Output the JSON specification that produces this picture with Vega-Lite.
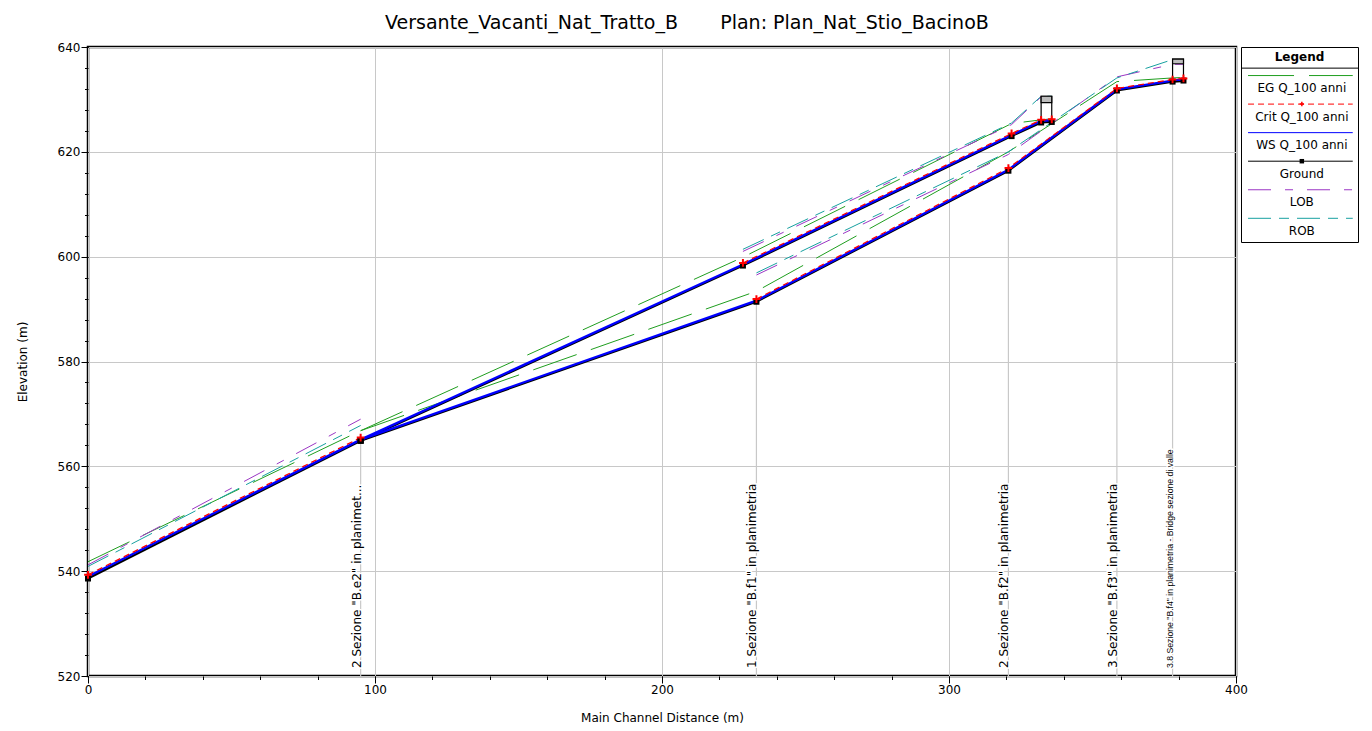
{
  "$schema": "https://vega.github.io/schema/vega-lite/v6.json",
  "background": "white",
  "padding": {"left": 14, "top": 14, "right": 5, "bottom": 5},
  "bounds": "flush",
  "spacing": 5,
  "title": {
    "text": "Versante_Vacanti_Nat_Tratto_B\u00a0\u00a0\u00a0\u00a0\u00a0\u00a0\u00a0Plan:\u00a0Plan_Nat_Stio_BacinoB",
    "font": "DejaVu Sans",
    "fontSize": 19,
    "fontWeight": "normal",
    "color": "black",
    "anchor": "middle",
    "offset": 6.5
  },
  "config": {
    "font": "DejaVu Sans",
    "axis": {
      "labelFont": "DejaVu Sans",
      "labelFontSize": 12,
      "labelColor": "black",
      "titleFont": "DejaVu Sans",
      "titleFontSize": 12,
      "titleFontWeight": "normal",
      "titleColor": "black",
      "tickColor": "black",
      "domain": false,
      "labelFlush": false,
      "labelOverlap": false,
      "gridColor": "#c8c8c8",
      "gridWidth": 1,
      "gridOpacity": 1
    }
  },
  "datasets": {
    "profile": [
      {"reach": "R1", "x": 0, "Ground": 538.6, "WS": 539.0, "Crit": 539.3, "EG": 541.8, "LOB": 541.2, "ROB": 540.9},
      {"reach": "R1", "x": 95, "Ground": 564.9, "WS": 565.1, "Crit": 565.5, "EG": 566.8, "LOB": 569.0, "ROB": 567.8},
      {"reach": "R2", "x": 95, "Ground": 564.9, "WS": 565.1, "Crit": null, "EG": 566.8, "LOB": null, "ROB": null},
      {"reach": "R2", "x": 228.2, "Ground": 598.3, "WS": 598.5, "Crit": 598.8, "EG": 599.9, "LOB": 601.0, "ROB": 601.4},
      {"reach": "R2", "x": 321.8, "Ground": 623.0, "WS": 623.2, "Crit": 623.5, "EG": 625.4, "LOB": 625.2, "ROB": 625.5},
      {"reach": "R2", "x": 332.1, "Ground": 625.6, "WS": 625.9, "Crit": 626.1, "EG": 626.1, "LOB": 630.5, "ROB": 630.6},
      {"reach": "R2", "x": 335.8, "Ground": 625.7, "WS": 626.0, "Crit": 626.2, "EG": 626.3, "LOB": 630.5, "ROB": 630.6},
      {"reach": "R3", "x": 95, "Ground": 564.9, "WS": 565.1, "Crit": null, "EG": 566.8, "LOB": null, "ROB": null},
      {"reach": "R3", "x": 232.9, "Ground": 591.4, "WS": 591.6, "Crit": 591.9, "EG": 593.4, "LOB": 596.5, "ROB": 596.9},
      {"reach": "R3", "x": 320.7, "Ground": 616.4, "WS": 616.6, "Crit": 616.9, "EG": 620.0, "LOB": 619.5, "ROB": 620.0},
      {"reach": "R3", "x": 358.5, "Ground": 631.7, "WS": 631.9, "Crit": 632.1, "EG": 633.4, "LOB": 634.3, "ROB": 634.1},
      {"reach": "R3", "x": 377.9, "Ground": 633.4, "WS": 633.6, "Crit": 633.8, "EG": 634.1, "LOB": 636.7, "ROB": 637.6},
      {"reach": "R3", "x": 381.7, "Ground": 633.6, "WS": 633.8, "Crit": 634.0, "EG": 634.2, "LOB": 636.7, "ROB": 637.6}
    ],
    "sections": [
      {"x": 95, "ground": 564.9, "label": "2 Sezione \"B.e2\" in planimet..."},
      {"x": 232.9, "ground": 591.4, "label": "1 Sezione \"B.f1\" in planimetria"},
      {"x": 320.7, "ground": 616.4, "label": "2 Sezione \"B.f2\" in planimetria"},
      {"x": 358.5, "ground": 631.7, "label": "3 Sezione \"B.f3\" in planimetria"},
      {"x": 377.9, "ground": 633.4, "label": "3.8 Sezione \"B.f4\" in planimetria - Bridge sezione di valle"}
    ],
    "bridges": [
      {"x": 332.1, "x2": 335.8, "ground": 625.6, "low": 629.4, "top": 630.6},
      {"x": 377.9, "x2": 381.7, "ground": 633.4, "low": 636.8, "top": 637.7}
    ],
    "legendItems": [
      {"key": "EG", "label": "EG Q_100 anni", "order": 1},
      {"key": "Crit", "label": "Crit Q_100 anni", "order": 2},
      {"key": "WS", "label": "WS Q_100 anni", "order": 3},
      {"key": "Ground", "label": "Ground", "order": 4},
      {"key": "LOB", "label": "LOB", "order": 5},
      {"key": "ROB", "label": "ROB", "order": 6}
    ]
  },
  "hconcat": [
    {
      "width": 1148,
      "height": 629,
      "view": {"stroke": "black", "strokeWidth": 2.5},
      "resolve": {"axis": {"x": "independent", "y": "independent"}},
      "layer": [
        {
          "data": {"name": "sections"},
          "mark": {"type": "point", "opacity": 0},
          "encoding": {
            "x": {
              "field": "x", "type": "quantitative",
              "scale": {"domain": [0, 400], "nice": false, "zero": false},
              "title": "Main Channel Distance (m)",
              "axis": {"orient": "bottom", "values": [0, 100, 200, 300, 400], "grid": true, "tickSize": 7, "labelPadding": 1, "titlePadding": 17, "format": "d"}
            },
            "y": {
              "field": "ground", "type": "quantitative",
              "scale": {"domain": [520, 640], "nice": false, "zero": false},
              "title": "Elevation (m)",
              "axis": {"orient": "left", "values": [520, 540, 560, 580, 600, 620, 640], "grid": true, "tickSize": 7, "labelPadding": 1, "titlePadding": 28, "format": "d"}
            }
          }
        },
        {
          "data": {"name": "sections"},
          "mark": {"type": "point", "opacity": 0},
          "encoding": {
            "x": {
              "field": "x", "type": "quantitative",
              "axis": {"orient": "bottom", "values": [0, 20, 40, 60, 80, 100, 120, 140, 160, 180, 200, 220, 240, 260, 280, 300, 320, 340, 360, 380, 400], "tickSize": 3.5, "labels": false, "grid": false, "title": null}
            },
            "y": {
              "field": "ground", "type": "quantitative",
              "axis": {"orient": "left", "values": [520, 524, 528, 532, 536, 540, 544, 548, 552, 556, 560, 564, 568, 572, 576, 580, 584, 588, 592, 596, 600, 604, 608, 612, 616, 620, 624, 628, 632, 636, 640], "tickSize": 3.5, "labels": false, "grid": false, "title": null}
            }
          }
        },
        {
          "data": {"name": "sections"},
          "mark": {"type": "rule", "color": "#c8c8c8", "strokeWidth": 1.2},
          "encoding": {
            "x": {"field": "x", "type": "quantitative", "axis": null},
            "y": {"field": "ground", "type": "quantitative", "axis": null},
            "y2": {"datum": 520}
          }
        },
        {
          "data": {"name": "sections"},
          "transform": [{"filter": "datum.x < 370"}],
          "mark": {"type": "text", "angle": 270, "align": "left", "baseline": "alphabetic", "dx": 8, "fontSize": 12, "font": "DejaVu Sans", "fill": "white", "stroke": "white", "strokeWidth": 3},
          "encoding": {
            "x": {"field": "x", "type": "quantitative", "axis": null},
            "y": {"datum": 520, "type": "quantitative", "axis": null},
            "text": {"field": "label"}
          }
        },
        {
          "data": {"name": "sections"},
          "transform": [{"filter": "datum.x < 370"}],
          "mark": {"type": "text", "angle": 270, "align": "left", "baseline": "alphabetic", "dx": 8, "fontSize": 12, "font": "DejaVu Sans", "color": "black"},
          "encoding": {
            "x": {"field": "x", "type": "quantitative", "axis": null},
            "y": {"datum": 520, "type": "quantitative", "axis": null},
            "text": {"field": "label"}
          }
        },
        {
          "data": {"name": "sections"},
          "transform": [{"filter": "datum.x > 370"}],
          "mark": {"type": "text", "angle": 270, "align": "left", "baseline": "alphabetic", "dx": 8, "fontSize": 8.7, "font": "Liberation Sans", "fill": "white", "stroke": "white", "strokeWidth": 3},
          "encoding": {
            "x": {"field": "x", "type": "quantitative", "axis": null},
            "y": {"datum": 520, "type": "quantitative", "axis": null},
            "text": {"field": "label"}
          }
        },
        {
          "data": {"name": "sections"},
          "transform": [{"filter": "datum.x > 370"}],
          "mark": {"type": "text", "angle": 270, "align": "left", "baseline": "alphabetic", "dx": 8, "fontSize": 8.7, "font": "Liberation Sans", "color": "black"},
          "encoding": {
            "x": {"field": "x", "type": "quantitative", "axis": null},
            "y": {"datum": 520, "type": "quantitative", "axis": null},
            "text": {"field": "label"}
          }
        },
        {
          "data": {"name": "profile"},
          "transform": [
            {"fold": ["Ground", "WS", "Crit", "EG", "LOB", "ROB"], "as": ["series", "elev"]},
            {"filter": "isValid(datum.elev)"}
          ],
          "encoding": {
            "x": {"field": "x", "type": "quantitative", "axis": null},
            "y": {"field": "elev", "type": "quantitative", "axis": null},
            "detail": {"field": "reach"}
          },
          "layer": [
            {"transform": [{"filter": "datum.series === 'EG'"}], "mark": {"type": "line", "color": "#1f9e1f", "strokeWidth": 1, "strokeDash": [46, 15]}},
            {"transform": [{"filter": "datum.series === 'LOB'"}], "mark": {"type": "line", "color": "#9b36c4", "strokeWidth": 1, "strokeDash": [23, 14, 8, 14]}},
            {"transform": [{"filter": "datum.series === 'ROB'"}], "mark": {"type": "line", "color": "#17a0a0", "strokeWidth": 1, "strokeDash": [23, 8, 10, 8]}},
            {"transform": [{"filter": "datum.series === 'Ground'"}], "mark": {"type": "line", "color": "black", "strokeWidth": 2.2}},
            {"transform": [{"filter": "datum.series === 'WS'"}], "mark": {"type": "line", "color": "#0000ff", "strokeWidth": 2.3}},
            {"transform": [{"filter": "datum.series === 'Crit'"}], "mark": {"type": "line", "color": "#ff0000", "strokeWidth": 1.2, "strokeDash": [6, 4]}}
          ]
        },
        {
          "data": {"name": "bridges"},
          "mark": {"type": "rect", "fill": "white", "fillOpacity": 0, "stroke": "black", "strokeWidth": 1.2},
          "encoding": {
            "x": {"field": "x", "type": "quantitative", "axis": null},
            "x2": {"field": "x2"},
            "y": {"field": "ground", "type": "quantitative", "axis": null},
            "y2": {"field": "top"}
          }
        },
        {
          "data": {"name": "bridges"},
          "mark": {"type": "rect", "fill": "#bdbdbd", "stroke": "black", "strokeWidth": 1.2},
          "encoding": {
            "x": {"field": "x", "type": "quantitative", "axis": null},
            "x2": {"field": "x2"},
            "y": {"field": "low", "type": "quantitative", "axis": null},
            "y2": {"field": "top"}
          }
        },
        {
          "data": {"name": "profile"},
          "mark": {"type": "point", "shape": "square", "filled": true, "color": "black", "size": 36, "opacity": 1},
          "encoding": {
            "x": {"field": "x", "type": "quantitative", "axis": null},
            "y": {"field": "Ground", "type": "quantitative", "axis": null}
          }
        },
        {
          "data": {"name": "profile"},
          "transform": [{"filter": "isValid(datum.Crit)"}],
          "mark": {"type": "point", "shape": "M-1,0L1,0M0,-1L0,1", "filled": false, "stroke": "#ff0000", "strokeWidth": 2, "size": 60, "opacity": 1},
          "encoding": {
            "x": {"field": "x", "type": "quantitative", "axis": null},
            "y": {"field": "Crit", "type": "quantitative", "axis": null}
          }
        }
      ]
    },
    {
      "width": 117,
      "height": 195,
      "view": {"stroke": "black", "strokeWidth": 1},
      "layer": [
        {
          "data": {"values": [{"head": "Legend"}]},
          "mark": {"type": "text", "fontWeight": "bold", "fontSize": 12, "font": "DejaVu Sans", "color": "black"},
          "encoding": {
            "x": {"datum": 0.5, "type": "quantitative", "scale": {"domain": [0, 1]}, "axis": null},
            "y": {"datum": 0.34, "type": "quantitative", "scale": {"domain": [0, 6.83], "reverse": true, "nice": false, "zero": false}, "axis": null},
            "text": {"field": "head"}
          }
        },
        {
          "data": {"values": [{"head": "Legend"}]},
          "mark": {"type": "rule", "color": "black", "strokeWidth": 1},
          "encoding": {
            "y": {"datum": 0.74, "type": "quantitative", "axis": null}
          }
        },
        {
          "data": {"name": "legendItems"},
          "encoding": {
            "x": {"datum": 0.06, "type": "quantitative", "axis": null},
            "x2": {"datum": 0.955},
            "y": {"field": "order", "type": "quantitative", "axis": null}
          },
          "layer": [
            {"transform": [{"filter": "datum.key === 'EG'"}], "mark": {"type": "rule", "color": "#1f9e1f", "strokeWidth": 1, "strokeDash": [46, 15]}},
            {"transform": [{"filter": "datum.key === 'Crit'"}], "mark": {"type": "rule", "color": "#ff0000", "strokeWidth": 1, "strokeDash": [6, 4]}},
            {"transform": [{"filter": "datum.key === 'WS'"}], "mark": {"type": "rule", "color": "#0000ff", "strokeWidth": 1}},
            {"transform": [{"filter": "datum.key === 'Ground'"}], "mark": {"type": "rule", "color": "black", "strokeWidth": 1}},
            {"transform": [{"filter": "datum.key === 'LOB'"}], "mark": {"type": "rule", "color": "#9b36c4", "strokeWidth": 1, "strokeDash": [23, 14, 8, 14]}},
            {"transform": [{"filter": "datum.key === 'ROB'"}], "mark": {"type": "rule", "color": "#17a0a0", "strokeWidth": 1, "strokeDash": [23, 8, 10, 8]}}
          ]
        },
        {
          "data": {"name": "legendItems"},
          "transform": [{"filter": "datum.key === 'Ground'"}],
          "mark": {"type": "point", "shape": "square", "filled": true, "color": "black", "size": 20, "opacity": 1},
          "encoding": {
            "x": {"datum": 0.52, "type": "quantitative", "axis": null},
            "y": {"field": "order", "type": "quantitative", "axis": null}
          }
        },
        {
          "data": {"name": "legendItems"},
          "transform": [{"filter": "datum.key === 'Crit'"}],
          "mark": {"type": "point", "shape": "M-1,0L1,0M0,-1L0,1", "filled": false, "stroke": "#ff0000", "strokeWidth": 1.5, "size": 20, "opacity": 1},
          "encoding": {
            "x": {"datum": 0.52, "type": "quantitative", "axis": null},
            "y": {"field": "order", "type": "quantitative", "axis": null}
          }
        },
        {
          "data": {"name": "legendItems"},
          "mark": {"type": "text", "fontSize": 12, "font": "DejaVu Sans", "color": "black", "dy": 12.7},
          "encoding": {
            "x": {"datum": 0.52, "type": "quantitative", "axis": null},
            "y": {"field": "order", "type": "quantitative", "axis": null},
            "text": {"field": "label"}
          }
        }
      ]
    }
  ]
}
